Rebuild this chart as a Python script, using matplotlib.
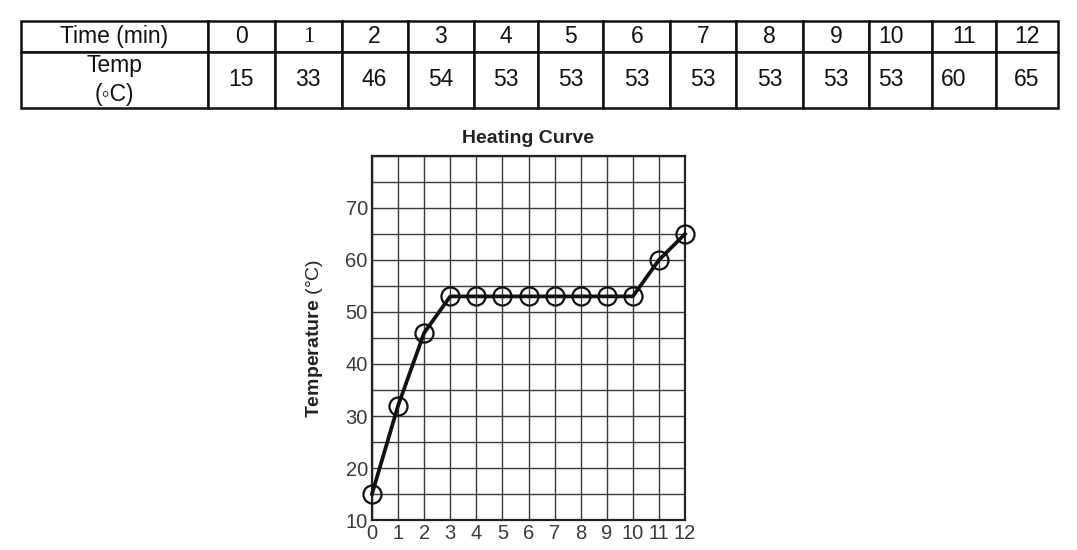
import matplotlib
matplotlib.use('Agg')
import matplotlib.pyplot as plt

# ---- data ----
time_labels = ['0', '1', '2', '3', '4', '5', '6', '7', '8', '9', '10', '11', '12']
table_temps = ['15', '33', '46', '54', '53', '53', '53', '53', '53', '53', '53', '60', '65']
row_labels = ['Time (min)', 'Temp\n(\u25e6C)']
plot_times = [0, 1, 2, 3, 4, 5, 6, 7, 8, 9, 10, 11, 12]
plot_temps = [15, 32, 46, 53, 53, 53, 53, 53, 53, 53, 53, 60, 65]
y_ticks = [10, 15, 20, 25, 30, 35, 40, 45, 50, 55, 60, 65, 70, 75, 80]
y_tick_labels = ['10', '', '20', '', '30', '', '40', '', '50', '', '60', '', '70', '', '']
chart_title = 'Heating Curve'
y_label = r'$\mathbf{Temperature}$ (°C)'

plt.rcParams['font.family'] = ['Liberation Sans', 'DejaVu Sans']
plt.rcParams['mathtext.fontset'] = 'custom'
plt.rcParams['mathtext.bf'] = 'Liberation Sans:bold'
plt.rcParams['mathtext.rm'] = 'Liberation Sans'

W, H = 1077, 550
fig = plt.figure(figsize=(W / 100, H / 100), dpi=100)

# ---- table ----
tl, tr, tt, tb = 21, 1058, 21, 108
ax_t = fig.add_axes([tl / W, 1 - tb / H, (tr - tl) / W, (tb - tt) / H])
ax_t.axis('off')
cell_text = [[row_labels[0]] + time_labels, [row_labels[1]] + table_temps]
col_widths = [187, 67, 67, 66, 66, 64, 66, 67, 66, 67, 66, 63, 64, 62]
table = ax_t.table(cellText=cell_text, colWidths=col_widths, cellLoc='center',
                   bbox=[0, 0, 1, 1])
table.auto_set_font_size(False)
table.set_fontsize(16.5)
row_heights = [31, 56]
for (r, c), cell in table.get_celld().items():
    cell.set_height(row_heights[r])
    cell.set_linewidth(1.8)
    cell.set_edgecolor('#111111')
    txt = cell.get_text()
    txt.set_color('#111111')
    txt.set_linespacing(1.3)
    txt.set_fontfamily(['Liberation Sans', 'DejaVu Sans'])
table[0, 2].get_text().set_fontfamily('Liberation Serif')
for c in (11, 12):
    table[1, c].get_text().set_horizontalalignment('left')
    table[1, c].PAD = 0.14
table[0, 11].get_text().set_horizontalalignment('left')
table[0, 11].PAD = 0.14

# ---- chart ----
al, ar, at, ab = 372, 685, 156, 520
ax = fig.add_axes([al / W, 1 - ab / H, (ar - al) / W, (ab - at) / H])
ax.plot(plot_times, plot_temps, color='#111111', lw=2.7, marker='o', ms=13,
        mfc='none', mec='#111111', mew=1.6, zorder=3, clip_on=False)
ax.set_xlim(0, 12)
ax.set_ylim(10, 80)
ax.set_xticks(plot_times)
ax.set_xticklabels(time_labels)
ax.set_yticks(y_ticks)
ax.set_yticklabels(y_tick_labels)
ax.grid(True, color='#3a3a3a', lw=1.0)
ax.tick_params(length=0, pad=3, labelsize=14.5, labelcolor='#3a3a3a')
for s in ax.spines.values():
    s.set_linewidth(1.6)
    s.set_color('#222222')
ax.set_title(chart_title, fontsize=14, fontweight='bold', pad=9, color='#222222')
ax.set_ylabel(y_label, fontsize=14, labelpad=15, color='#222222')

fig.savefig('out.png', dpi=100)
